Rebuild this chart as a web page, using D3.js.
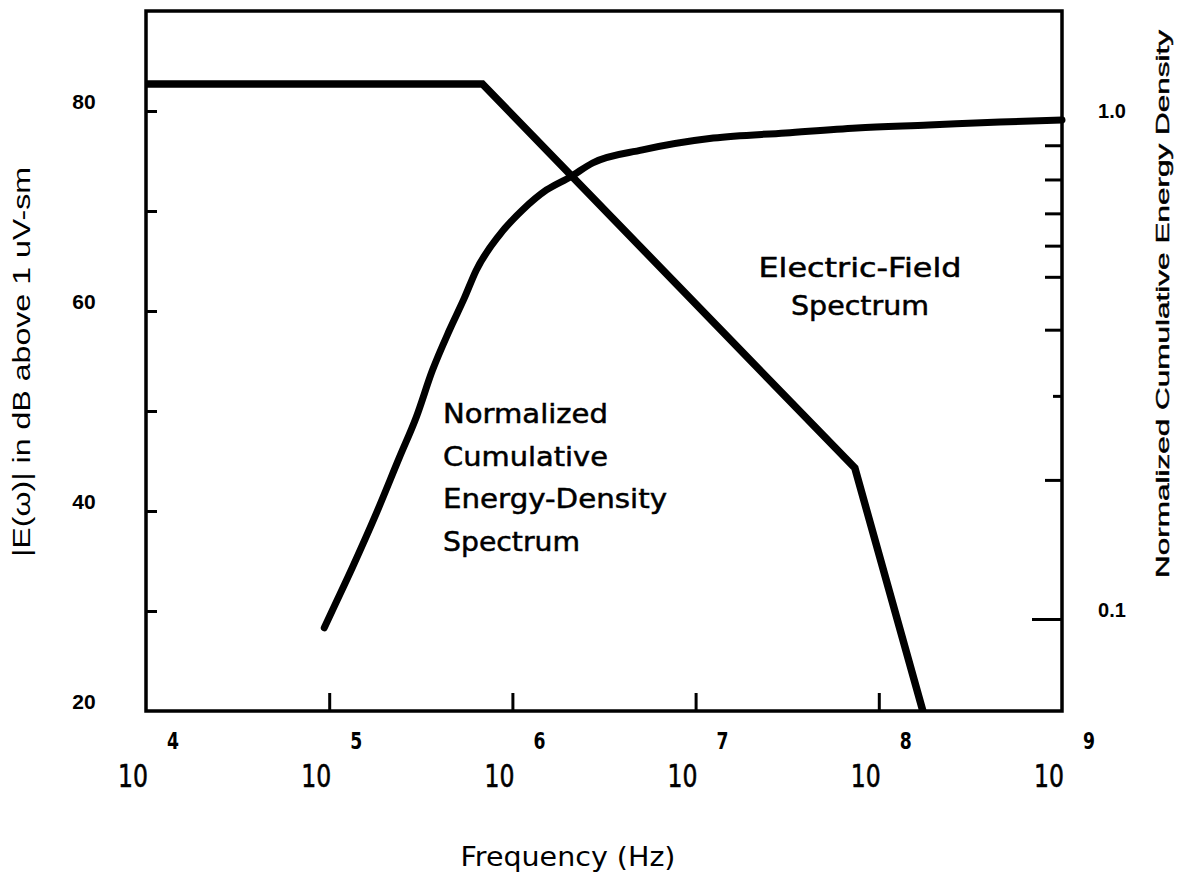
<!DOCTYPE html>
<html>
<head>
<meta charset="utf-8">
<script src="https://cdn.jsdelivr.net/npm/d3@7"></script>
<style>
  html, body { margin: 0; padding: 0; background: #fff; }
  svg { display: block; }
  text { fill: #000; }
</style>
</head>
<body>
<svg id="chart" width="1184" height="890"></svg>
<script>
// Electric-field spectrum: piecewise segments (frequency in Hz, level in dB above 1 uV-sm)
const fieldFreq = [1e4, 6.86e5, 7.4e7, 1.74e8];
const fieldDb   = [82.7, 82.7, 44.3, 20];

// Normalized cumulative energy-density spectrum
const cumFreq = [9.4e4, 1.04e5, 1.34e5, 1.81e5, 2.42e5, 2.99e5, 3.66e5, 4.53e5, 5.47e5, 6.35e5,
                 8.49e5, 1.135e6, 1.535e6, 2.07e6, 2.74e6, 5.13e6, 1.25e7, 3.10e7, 7.59e7,
                 1.87e8, 4.58e8, 1e9];
const cumVal  = [0.096, 0.104, 0.127, 0.163, 0.211, 0.254, 0.315, 0.379, 0.440, 0.500,
                 0.588, 0.660, 0.724, 0.769, 0.820, 0.871, 0.920, 0.942, 0.964,
                 0.977, 0.991, 1.0];

// Axis ticks and labels
const xDecades      = [1e4, 1e5, 1e6, 1e7, 1e8, 1e9];
const xExponents    = ["4", "5", "6", "7", "8", "9"];
const xInnerTicks   = [1e5, 1e6, 1e7, 1e8];
const leftTicks     = [30, 40, 50, 60, 70, 80];
const leftLabels    = [20, 40, 60, 80];
const rightMajor    = [1.0, 0.1];
const rightMajorTxt = ["1.0", "0.1"];
const rightMinor    = [0.89, 0.76, 0.65, 0.56, 0.485, 0.38, 0.19];
const rightShort    = [0.28];

const svg = d3.select("#chart");
const L = 146, R = 1062, T = 11, B = 711;

const x  = d3.scaleLog().domain([1e4, 1e9]).range([L, R]);
const yL = d3.scaleLinear().domain([20, 90]).range([B, T]);
const yR = d3.scaleLog().domain([0.1, 1]).range([619, 120]);

// plot frame
svg.append("rect")
  .attr("x", L).attr("y", T).attr("width", R - L).attr("height", B - T)
  .attr("fill", "none").attr("stroke", "#000").attr("stroke-width", 3.5);

function styleTicks(g) {
  g.select(".domain").remove();
  g.selectAll(".tick line").attr("stroke", "#000").attr("stroke-width", 3);
  g.selectAll(".tick text").remove();
}

// left inner ticks
svg.append("g").attr("transform", `translate(${L},0)`)
  .call(d3.axisRight(yL).tickValues(leftTicks).tickSize(11).tickFormat(""))
  .call(styleTicks);

// bottom inner ticks
svg.append("g").attr("transform", `translate(0,${B})`)
  .call(d3.axisTop(x).tickValues(xInnerTicks).tickSize(18).tickFormat(""))
  .call(styleTicks);

// right inner ticks
svg.append("g").attr("transform", `translate(${R},0)`)
  .call(d3.axisLeft(yR).tickValues(rightMajor).tickSize(30).tickFormat(""))
  .call(styleTicks);
svg.append("g").attr("transform", `translate(${R},0)`)
  .call(d3.axisLeft(yR).tickValues(rightMinor).tickSize(17).tickFormat(""))
  .call(styleTicks);
svg.append("g").attr("transform", `translate(${R},0)`)
  .call(d3.axisLeft(yR).tickValues(rightShort).tickSize(9).tickFormat(""))
  .call(styleTicks);

// left tick labels
svg.append("g").selectAll("text").data(leftLabels).join("text")
  .attr("x", 84).attr("y", d => yL(d) - 10)
  .attr("text-anchor", "middle").attr("dominant-baseline", "central")
  .attr("font-family", "Liberation Sans, Arial, sans-serif")
  .attr("font-weight", "bold").attr("font-size", 21)
  .text(d => d);

// right tick labels
svg.append("g").selectAll("text").data(rightMajor).join("text")
  .attr("x", 1112).attr("y", d => yR(d) - 9)
  .attr("text-anchor", "middle").attr("dominant-baseline", "central")
  .attr("font-family", "Liberation Sans, Arial, sans-serif")
  .attr("font-weight", "bold").attr("font-size", 20)
  .text((d, i) => rightMajorTxt[i]);

// x decade labels: "10" with superscript exponent
const xl = svg.append("g");
xl.selectAll("text.base").data(xDecades).join("text")
  .attr("class", "base")
  .attr("x", d => x(d) - 13).attr("y", 787)
  .attr("text-anchor", "middle")
  .attr("font-family", "DejaVu Sans, sans-serif").attr("font-size", 32)
  .attr("stroke", "#000").attr("stroke-width", 0.6)
  .attr("textLength", 30).attr("lengthAdjust", "spacingAndGlyphs")
  .text("10");
xl.selectAll("text.exp").data(xDecades).join("text")
  .attr("class", "exp")
  .attr("x", (d, i) => x(d) + 27).attr("y", 749)
  .attr("text-anchor", "middle")
  .attr("font-family", "DejaVu Sans, sans-serif").attr("font-weight", "bold").attr("font-size", 23)
  .attr("textLength", 12).attr("lengthAdjust", "spacingAndGlyphs")
  .text((d, i) => xExponents[i]);

// axis titles
svg.append("text")
  .attr("x", 568).attr("y", 866).attr("text-anchor", "middle")
  .attr("font-family", "DejaVu Sans, sans-serif").attr("font-size", 26)
  .attr("textLength", 215).attr("lengthAdjust", "spacingAndGlyphs")
  .text("Frequency (Hz)");

svg.append("text")
  .attr("transform", "translate(22,362) rotate(-90)")
  .attr("text-anchor", "middle").attr("dominant-baseline", "central")
  .attr("font-family", "Liberation Sans, Arial, sans-serif").attr("font-size", 23)
  .attr("textLength", 390).attr("lengthAdjust", "spacingAndGlyphs")
  .text("|E(ω)| in dB above 1 uV-sm");

svg.append("text")
  .attr("transform", "translate(1163,304) rotate(-90)")
  .attr("text-anchor", "middle").attr("dominant-baseline", "central")
  .attr("font-family", "Liberation Sans, Arial, sans-serif").attr("font-size", 18)
  .attr("stroke", "#000").attr("stroke-width", 0.4)
  .attr("textLength", 548).attr("lengthAdjust", "spacingAndGlyphs")
  .text("Normalized Cumulative Energy Density");

// curves
const fieldLine = d3.line()
  .x((d, i) => x(fieldFreq[i]))
  .y((d, i) => yL(fieldDb[i]));
svg.append("path")
  .attr("d", fieldLine(fieldFreq))
  .attr("fill", "none").attr("stroke", "#000").attr("stroke-width", 7.5)
  .attr("stroke-linejoin", "miter");

const cumLine = d3.line()
  .x((d, i) => x(cumFreq[i]))
  .y((d, i) => yR(cumVal[i]))
  .curve(d3.curveMonotoneX);
svg.append("path")
  .attr("d", cumLine(cumFreq))
  .attr("fill", "none").attr("stroke", "#000").attr("stroke-width", 7)
  .attr("stroke-linecap", "round").attr("stroke-linejoin", "round");

// in-plot annotations
const note = (lines, x0, y0, anchor, widths, dy) => {
  const g = svg.append("g");
  lines.forEach((s, i) => {
    g.append("text")
      .attr("x", x0).attr("y", y0 + i * dy).attr("text-anchor", anchor)
      .attr("font-family", "DejaVu Sans, sans-serif").attr("font-size", 26)
      .attr("stroke", "#000").attr("stroke-width", 0.5)
      .attr("textLength", widths[i]).attr("lengthAdjust", "spacingAndGlyphs")
      .text(s);
  });
};
note(["Electric-Field", "Spectrum"], 860, 277, "middle", [203, 138], 38);
note(["Normalized", "Cumulative", "Energy-Density", "Spectrum"], 443, 423, "start", [165, 165, 224, 137], 42.5);
</script>
</body>
</html>
